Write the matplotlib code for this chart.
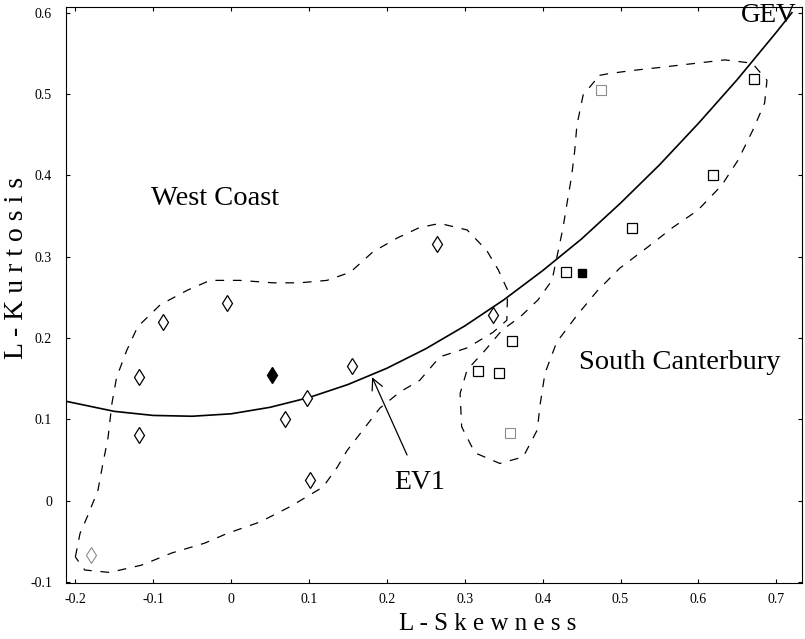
# L-moment ratio diagram, West Coast / South Canterbury sites
import matplotlib
matplotlib.use('Agg')
import matplotlib.pyplot as plt
from matplotlib.ticker import FuncFormatter

plt.rcParams['font.family'] = ['Liberation Serif', 'DejaVu Serif']

#===============================================================================
# Data
#===============================================================================
# West Coast sites (open diamonds) and regional average (filled)
wc_skew = [-0.118, -0.118, -0.087, -0.005, 0.069, 0.098, 0.101, 0.155, 0.264, 0.336]
wc_kurt = [0.081, 0.152, 0.220, 0.243, 0.101, 0.127, 0.026, 0.166, 0.316, 0.228]
wc_faint_skew = [-0.180]
wc_faint_kurt = [-0.067]
wc_mean = (0.052, 0.155)

# South Canterbury sites (open squares) and regional average (filled)
sc_skew = [0.317, 0.344, 0.360, 0.430, 0.515, 0.619, 0.671]
sc_kurt = [0.160, 0.157, 0.197, 0.281, 0.336, 0.401, 0.518]
sc_faint_skew = [0.358, 0.475]
sc_faint_kurt = [0.083, 0.505]
sc_mean = (0.450, 0.280)

# GEV curve
gev_skew = [-0.21, -0.15, -0.10, -0.05, 0.0, 0.05, 0.10, 0.15, 0.20, 0.25, 0.30,
            0.35, 0.40, 0.45, 0.50, 0.55, 0.60, 0.65, 0.70, 0.72]
gev_kurt = [0.122, 0.110, 0.105, 0.104, 0.107, 0.115, 0.127, 0.143, 0.163, 0.187,
            0.215, 0.247, 0.283, 0.322, 0.366, 0.413, 0.464, 0.518, 0.576, 0.600]

# hand drawn region boundaries (dashed)
wc_bound_x = [-0.200, -0.194, -0.184, -0.171, -0.165, -0.158, -0.153, -0.147, -0.134,
              -0.120, -0.091, -0.056, -0.027, 0.011, 0.054, 0.088, 0.123, 0.153, 0.182,
              0.213, 0.242, 0.268, 0.303, 0.328, 0.343, 0.355, 0.354, 0.336, 0.303,
              0.268, 0.242, 0.217, 0.191, 0.149, 0.136, 0.118, 0.076, 0.037, -0.005,
              -0.034, -0.076, -0.115, -0.156, -0.188, -0.200]
wc_bound_y = [-0.069, -0.040, -0.018, 0.013, 0.044, 0.078, 0.120, 0.152, 0.185,
              0.214, 0.241, 0.259, 0.271, 0.271, 0.268, 0.268, 0.271, 0.281, 0.306,
              0.323, 0.336, 0.341, 0.333, 0.308, 0.284, 0.259, 0.222, 0.207, 0.188,
              0.177, 0.148, 0.134, 0.114, 0.062, 0.041, 0.017, -0.007, -0.026, -0.040,
              -0.052, -0.064, -0.079, -0.088, -0.085, -0.069]

sc_bound_x = [0.473, 0.484, 0.515, 0.553, 0.589, 0.634, 0.669, 0.688, 0.685, 0.670,
              0.651, 0.630, 0.599, 0.567, 0.535, 0.499, 0.470, 0.444, 0.418, 0.403,
              0.397, 0.393, 0.375, 0.345, 0.313, 0.296, 0.294, 0.303, 0.326, 0.348,
              0.371, 0.394, 0.412, 0.426, 0.432, 0.437, 0.441, 0.444, 0.452, 0.473]
sc_bound_y = [0.523, 0.525, 0.529, 0.533, 0.537, 0.542, 0.538, 0.517, 0.489, 0.456,
              0.419, 0.388, 0.357, 0.336, 0.312, 0.286, 0.258, 0.228, 0.195, 0.157,
              0.120, 0.087, 0.054, 0.046, 0.059, 0.091, 0.132, 0.161, 0.185, 0.210,
              0.226, 0.247, 0.271, 0.335, 0.370, 0.398, 0.429, 0.462, 0.499, 0.523]

x_ticks = [-0.2, -0.1, 0.0, 0.1, 0.2, 0.3, 0.4, 0.5, 0.6, 0.7]
y_ticks = [-0.1, 0.0, 0.1, 0.2, 0.3, 0.4, 0.5, 0.6]


def tick_fmt(v, pos):
    if abs(v) < 1e-9:
        return '0'
    return ('%.1f' % v).replace('\u2212', '-')


#===============================================================================
# Plot
#===============================================================================
fig = plt.figure(figsize=(8.05, 6.39), dpi=100)
ax = fig.add_axes([0.082, 0.0876, 0.9143, 0.9014])

dash = (0, (7, 7))
ax.plot(wc_bound_x, wc_bound_y, color='black', lw=0.9, ls=dash)
ax.plot(sc_bound_x, sc_bound_y, color='black', lw=0.9, ls=dash)
ax.plot(gev_skew, gev_kurt, color='black', lw=1.2)

mk = dict(ls='none', mec='black', mfc='white', mew=0.9)
ax.plot(wc_skew, wc_kurt, marker='d', ms=8.5, **mk)
ax.plot(wc_faint_skew, wc_faint_kurt, marker='d', ms=8.5, ls='none',
        mec='0.55', mfc='white', mew=0.8)
ax.plot([wc_mean[0]], [wc_mean[1]], marker='d', ms=8, ls='none', color='black')
ax.plot(sc_skew, sc_kurt, marker='s', ms=7, **mk)
ax.plot(sc_faint_skew, sc_faint_kurt, marker='s', ms=7, ls='none',
        mec='0.55', mfc='white', mew=0.8)
ax.plot([sc_mean[0]], [sc_mean[1]], marker='s', ms=6, ls='none', color='black')

# labels on the chart
ax.text(-0.021, 0.372, 'West Coast', fontsize=20.5, ha='center', va='center')
ax.text(0.576, 0.170, 'South Canterbury', fontsize=20.5, ha='center', va='center')
ax.text(0.690, 0.596, 'GEV', fontsize=19.5, ha='center', va='center')
ax.annotate('EV1', xy=(0.181, 0.152), xytext=(0.242, 0.022), fontsize=20,
            ha='center', va='center',
            arrowprops=dict(arrowstyle='->', color='black', lw=0.9,
                            shrinkA=10, shrinkB=0))

ax.set_xlim(-0.212, 0.733)
ax.set_ylim(-0.101, 0.607)
ax.set_xticks(x_ticks)
ax.set_yticks(y_ticks)
ax.xaxis.set_major_formatter(FuncFormatter(tick_fmt))
ax.yaxis.set_major_formatter(FuncFormatter(tick_fmt))
ax.tick_params(direction='in', length=3, width=0.8, labelsize=10,
               top=True, right=True)
ax.tick_params(axis='x', pad=7)
ax.tick_params(axis='y', pad=10)
for s in ax.spines.values():
    s.set_linewidth(0.8)

ax.set_xlabel('L - S k e w n e s s', fontsize=18)
ax.set_ylabel('L - K u r t o s i s', fontsize=20)
ax.xaxis.set_label_coords(0.573, -0.052)
ax.yaxis.set_label_coords(-0.05, 0.547)

fig.savefig('out.png', dpi=100)
print('[INFO] out.png is saved!')
